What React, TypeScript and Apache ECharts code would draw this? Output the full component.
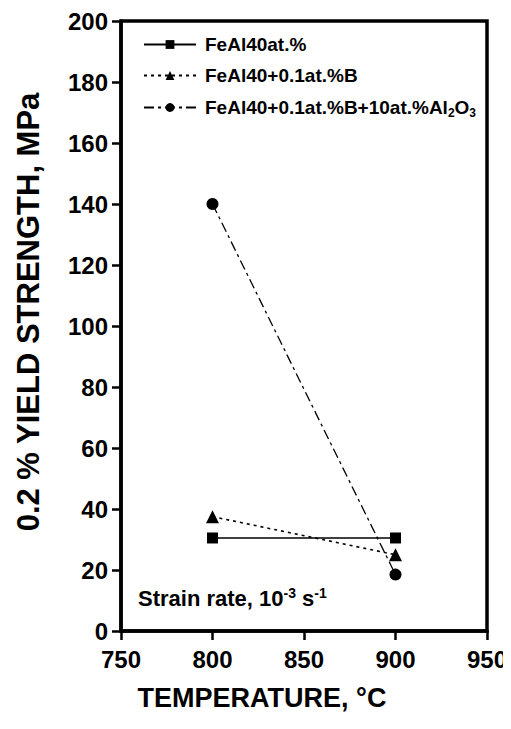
import React, { useEffect, useRef } from "react";
import * as echarts from "echarts";

const temperatures = [800, 900];
const feal40 = [30.5, 30.5];
const feal40B = [37.5, 25];
const feal40BAl2O3 = [140, 18.5];
const seriesNames = [
  "FeAl40at.%",
  "FeAl40+0.1at.%B",
  "FeAl40+0.1at.%B+10at.%Al2O3",
];
const legendTops = [30, 61, 93];

const FONT = "Liberation Sans, Arial, sans-serif";

export default function App() {
  const ref = useRef<HTMLDivElement>(null);
  useEffect(() => {
    if (!ref.current) return;
    const chart = echarts.init(ref.current, undefined, { renderer: "svg" });
    const pairs = (ys: number[]) => temperatures.map((t, i) => [t, ys[i]]);
    const richBase = { fontFamily: FONT, fontWeight: "bold", fontSize: 19, color: "#000" };
    const legends = seriesNames.map((name, i) => ({
      orient: "vertical",
      left: 138,
      top: legendTops[i],
      itemWidth: 52,
      itemHeight: 11,
      textStyle: {
        ...richBase,
        padding: [0, 0, 0, 4],
        rich: {
          a: richBase,
          sub: {
            ...richBase,
            fontSize: 12,
            padding: [10, 0, 0, 0],
          },
        },
      },
      formatter: (n: string) => {
        if (n === seriesNames[2]) {
          return "{a|FeAl40+0.1at.%B+10at.%Al}{sub|2}{a|O}{sub|3}";
        }
        return "{a|" + n + "}";
      },
      data: [name],
    }));
    chart.setOption({
      animation: false,
      backgroundColor: "#fff",
      grid: {
        left: 121,
        right: 24,
        top: 21,
        bottom: 98,
        show: true,
        borderColor: "#000",
        borderWidth: 3.5,
      },
      legend: legends,
      xAxis: {
        type: "value",
        min: 750,
        max: 950,
        interval: 50,
        axisLine: { lineStyle: { color: "#000", width: 3.5 } },
        axisTick: { inside: false, length: 9, lineStyle: { color: "#000", width: 2.5 } },
        axisLabel: { fontFamily: FONT, fontWeight: "bold", fontSize: 24, color: "#000", margin: 16 },
        splitLine: { show: false },
      },
      yAxis: {
        type: "value",
        min: 0,
        max: 200,
        interval: 20,
        axisLine: { lineStyle: { color: "#000", width: 3.5 } },
        axisTick: { inside: false, length: 9, lineStyle: { color: "#000", width: 2.5 } },
        axisLabel: { fontFamily: FONT, fontWeight: "bold", fontSize: 24, color: "#000", margin: 13 },
        splitLine: { show: false },
      },
      series: [
        {
          name: seriesNames[0],
          type: "line",
          data: pairs(feal40),
          symbol: "rect",
          symbolSize: 11,
          itemStyle: { color: "#000" },
          lineStyle: { color: "#000", width: 1.3, type: "solid" },
        },
        {
          name: seriesNames[1],
          type: "line",
          data: pairs(feal40B),
          symbol: "triangle",
          symbolSize: 13,
          itemStyle: { color: "#000" },
          lineStyle: { color: "#000", width: 1.6, type: [3, 4] },
        },
        {
          name: seriesNames[2],
          type: "line",
          data: pairs(feal40BAl2O3),
          symbol: "circle",
          symbolSize: 12,
          itemStyle: { color: "#000" },
          lineStyle: { color: "#000", width: 1.3, type: [10, 4, 3, 4] },
        },
      ],
      graphic: [
        {
          type: "text",
          x: 28,
          y: 312,
          rotation: Math.PI / 2,
          style: {
            text: "0.2 % YIELD STRENGTH, MPa",
            fontFamily: FONT,
            fontWeight: "bold",
            fontSize: 31,
            fill: "#000",
            align: "center",
            verticalAlign: "middle",
          },
        },
        {
          type: "text",
          x: 262,
          y: 698,
          style: {
            text: "TEMPERATURE, °C",
            fontFamily: FONT,
            fontWeight: "bold",
            fontSize: 27,
            fill: "#000",
            align: "center",
            verticalAlign: "middle",
          },
        },
        {
          type: "text",
          left: 138,
          top: 586,
          style: {
            text: "{a|Strain rate, 10}{sup|-3}{a| s}{sup|-1}",
            rich: {
              a: { fontFamily: FONT, fontWeight: "bold", fontSize: 22, fill: "#000" },
              sup: {
                fontFamily: FONT,
                fontWeight: "bold",
                fontSize: 14,
                fill: "#000",
                padding: [0, 0, 10, 0],
              },
            },
          },
        },
      ],
    });
    return () => chart.dispose();
  }, []);
  return <div ref={ref} style={{ width: 511, height: 729, margin: -8 }} />;
}
